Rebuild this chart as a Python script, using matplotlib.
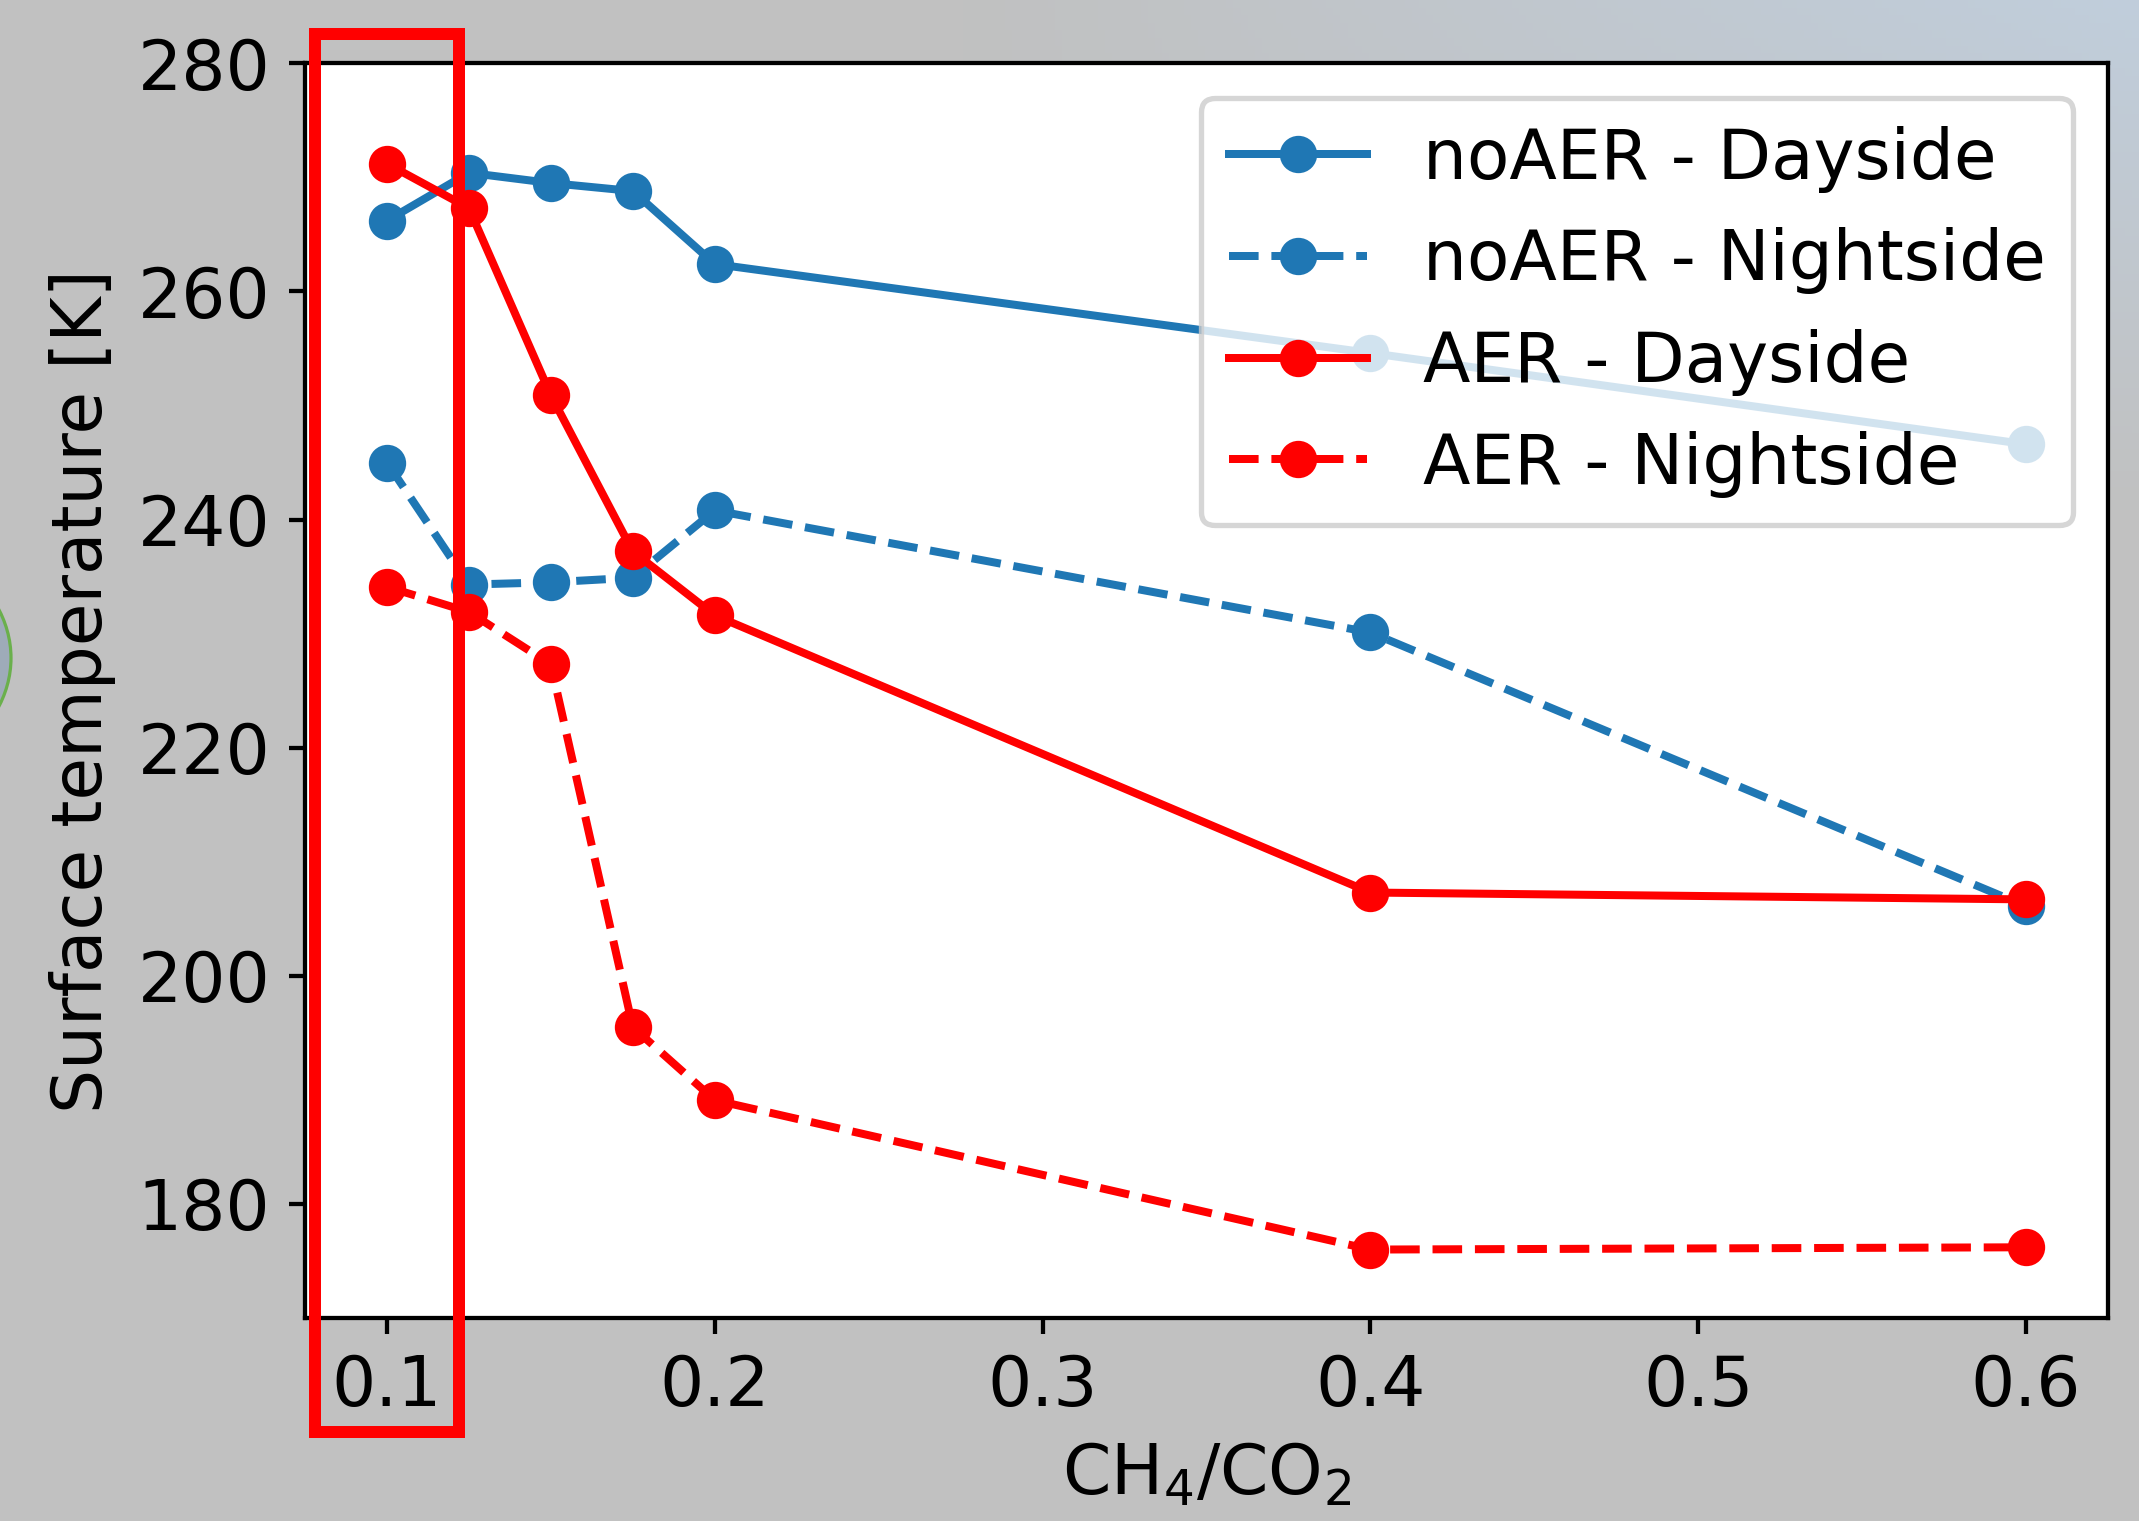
import numpy as np
import matplotlib
matplotlib.use("Agg")
import matplotlib.pyplot as plt
from matplotlib.patches import Rectangle, Circle

# ---- data ----
ratio = [0.1, 0.125, 0.15, 0.175, 0.2, 0.4, 0.6]
noaer_day = [266.2, 270.4, 269.5, 268.8, 262.4, 254.6, 246.6]
noaer_night = [245.0, 234.3, 234.5, 234.9, 240.8, 230.1, 206.1]
aer_day = [271.2, 267.3, 250.9, 237.2, 231.6, 207.3, 206.7]
aer_night = [234.1, 231.9, 227.3, 195.5, 189.1, 176.0, 176.2]
labels = ["noAER - Dayside", "noAER - Nightside", "AER - Dayside", "AER - Nightside"]
xticks = [0.1, 0.2, 0.3, 0.4, 0.5, 0.6]
yticks = [180, 200, 220, 240, 260, 280]

W, H, DPI = 2139, 1521, 384
FS = 13
fig = plt.figure(figsize=(W / DPI, H / DPI), dpi=DPI, facecolor="#c1c1c1")

# slide background (decorative gradient: gray with a bluish tint at the top right)
bg = fig.add_axes([0, 0, 1, 1], zorder=-10)
bg.set_axis_off()
yy, xx = np.mgrid[0:1:200j, 0:1:300j]
w = np.clip((xx - 0.45) * 1.8, 0, 1) * np.clip(1 - yy * 3.0, 0, 1)
gray = np.array([193, 193, 193]) / 255
blue = np.array([192, 206, 220]) / 255
img = gray[None, None, :] * (1 - w[..., None]) + blue[None, None, :] * w[..., None]
bg.imshow(img, extent=[0, 1, 0, 1], aspect="auto", origin="upper")
bg.set_xlim(0, 1)
bg.set_ylim(0, 1)

ax = fig.add_axes([305 / W, 1 - 1318 / H, (2108 - 305) / W, (1318 - 63.3) / H])
ax.set_facecolor("white")

blue_c = "#1f77b4"
ax.plot(ratio, noaer_day, "-o", color=blue_c, lw=1.5, ms=6, label=labels[0])
ax.plot(ratio, noaer_night, "--o", color=blue_c, lw=1.5, ms=6, label=labels[1])
ax.plot(ratio, aer_day, "-o", color="red", lw=1.5, ms=6, label=labels[2])
ax.plot(ratio, aer_night, "--o", color="red", lw=1.5, ms=6, label=labels[3])

ax.set_ylim(170, 280)
ax.set_xlim(0.075, 0.625)
ax.set_xticks(xticks)
ax.set_xticklabels([f"{t:.1f}" for t in xticks])
ax.set_yticks(yticks)
ax.tick_params(labelsize=FS, length=3)
ax.set_xlabel(r"CH$_4$/CO$_2$", fontsize=FS)
ax.set_ylabel("Surface temperature [K]", fontsize=FS)
ax.legend(loc="upper right", fontsize=FS)

# red highlight box around x = 0.1
x0, x1 = 315 / W, 458.5 / W
y0, y1 = 1 - 1432 / H, 1 - 34 / H
fig.patches.append(Rectangle((x0, y0), x1 - x0, y1 - y0, transform=fig.transFigure,
                             fill=False, edgecolor="red", lw=2.25, zorder=20))

# partial circle at the left edge of the slide
fig.patches.append(Circle((-186.5 / W, 1 - 658 / H), 197.5 / W, transform=fig.transFigure,
                          facecolor="#9eabb9", edgecolor="#6ab04c", lw=0.6, zorder=-5))

fig.savefig("out.png", dpi=DPI, facecolor=fig.get_facecolor())
